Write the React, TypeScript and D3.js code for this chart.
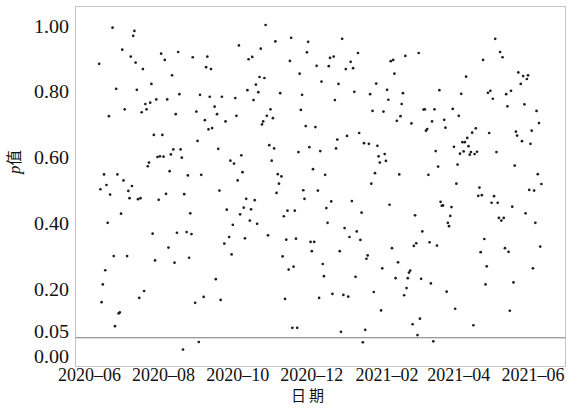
import React from "react";
import * as d3 from "d3";

// ---- data ----
const startDate = "2020-06-01";
// day offset from startDate for each observation
const dayIndex = [
  8, 9, 10, 11, 12, 13, 14, 15, 16, 17, 19, 20, 21, 22, 23, 24, 25, 26, 27, 28, 29,
  31, 32, 33, 34, 35, 36, 37, 38, 39, 40, 41, 42, 43, 44, 45, 46, 47, 48, 49, 50,
  51, 52, 53, 54, 55, 56, 57, 58, 59, 60, 61, 62, 63, 64, 65, 66, 67, 68, 69, 70,
  71, 72, 73, 74, 75, 76, 77, 78, 80, 81, 82, 83, 84, 85, 87, 88, 89, 90, 91, 92,
  94, 95, 96, 97, 98,
  99, 100, 101, 103, 104, 105, 106, 107, 108, 109, 111, 112, 113,
  115, 116, 117, 118, 119, 120, 121, 122, 123, 124, 125, 126, 127, 128, 129, 130,
  131, 132, 133, 134, 135, 136, 137, 138, 139, 140, 141, 142, 143, 144, 145, 146,
  147, 148, 149, 150, 151, 152, 153, 154, 155, 156, 157, 158, 159, 160, 161, 162,
  163, 164, 165, 166, 167, 168, 169, 170, 171, 172, 173, 174, 175, 176, 177, 178,
  179, 180, 181, 182, 183, 184, 185, 186, 187, 188, 189, 190, 191, 192, 193, 194,
  195, 196, 197, 198, 199, 200, 201, 202, 203, 204, 205, 206, 207, 208, 209, 210,
  211, 212, 213, 214, 215, 216, 217, 218, 219, 220, 221, 222, 223, 224, 225, 226,
  227, 228, 229, 230, 231, 232, 233, 234, 235, 236, 237, 238, 239, 240, 241, 242,
  243, 244, 245, 246, 247, 248, 249, 250, 251, 252, 253, 254, 255, 256, 257, 258,
  259, 260, 261, 262, 263, 264, 265, 266, 267, 268, 269, 270, 271, 272, 273, 274,
  275, 276, 277, 278, 279, 280, 281, 282, 283, 284, 285, 286, 287, 288, 289,
  290, 291, 292, 293, 294, 295, 296, 297, 298, 299, 300, 301, 302, 303, 304, 305,
  306, 307, 308, 309, 310, 311, 312, 313, 314, 315, 316, 317, 318, 319, 320, 321,
  322, 323, 324, 325, 326, 327, 328, 329, 330, 331, 332, 333, 334, 335, 336, 337,
  338, 339, 340, 341, 342, 343, 344, 345, 346, 347, 348, 349, 350, 351, 352, 353,
  355, 356, 357, 358, 359, 360, 361, 362, 363, 364, 365, 366, 367, 368, 369, 370,
  371, 372,
];

const pValues = [
  0.882, 0.501, 0.158, 0.212, 0.546, 0.255, 0.514, 0.399, 0.723, 0.485,
  0.992, 0.298, 0.085, 0.806, 0.546, 0.124, 0.127, 0.427, 0.925, 0.528,
  0.744, 0.298, 0.496, 0.474, 0.904, 0.511, 0.967, 0.982, 0.886, 0.803,
  0.471, 0.171, 0.474, 0.735, 0.866, 0.192, 0.760, 0.744, 0.571, 0.582,
  0.764, 0.821, 0.366, 0.666, 0.285, 0.774, 0.599, 0.469, 0.601, 0.913,
  0.666, 0.600, 0.894, 0.487, 0.774, 0.324, 0.556, 0.607, 0.847, 0.622,
  0.278, 0.729, 0.369, 0.918, 0.790, 0.622, 0.597, 0.014, 0.486, 0.371,
  0.543, 0.293, 0.428, 0.365, 0.902, 0.156, 0.737, 0.648, 0.037, 0.788,
  0.545, 0.174, 0.711, 0.872, 0.904, 0.683,
  0.782, 0.866, 0.687, 0.752, 0.228, 0.729, 0.624, 0.497, 0.165, 0.782,
  0.336, 0.707, 0.439, 0.356, 0.588, 0.303, 0.393, 0.579, 0.778, 0.724,
  0.528, 0.938, 0.425, 0.604, 0.553, 0.445, 0.352, 0.472, 0.802, 0.896,
  0.406, 0.440, 0.903, 0.772, 0.468, 0.819, 0.396, 0.796, 0.842, 0.928,
  0.698, 0.707, 0.839, 1.000, 0.724, 0.361, 0.635, 0.744, 0.588, 0.717,
  0.625, 0.950, 0.490, 0.547, 0.518, 0.793, 0.540, 0.297, 0.419, 0.168,
  0.348, 0.436, 0.257, 0.891, 0.961, 0.080, 0.266, 0.436, 0.351, 0.080,
  0.614, 0.852, 0.742, 0.788, 0.498, 0.472, 0.693, 0.917, 0.949, 0.629,
  0.341, 0.313, 0.562, 0.341, 0.690, 0.876, 0.497, 0.171, 0.617, 0.828,
  0.274, 0.237, 0.545,
  0.444, 0.399, 0.875, 0.900, 0.464, 0.183, 0.904, 0.772, 0.625, 0.652,
  0.821, 0.313, 0.068, 0.958, 0.180, 0.383, 0.866, 0.663, 0.175, 0.356,
  0.888, 0.465, 0.869, 0.797, 0.235, 0.373, 0.915, 0.672, 0.347, 0.430,
  0.036, 0.641, 0.074, 0.290, 0.300, 0.639, 0.790, 0.518, 0.739, 0.189,
  0.550, 0.822, 0.633, 0.601, 0.582, 0.133, 0.261, 0.737, 0.608, 0.587,
  0.803, 0.773, 0.454, 0.890, 0.322, 0.894, 0.852, 0.231, 0.709, 0.279,
  0.546, 0.723, 0.760, 0.793, 0.179, 0.906, 0.201, 0.231, 0.248, 0.254,
  0.701, 0.091, 0.329, 0.422, 0.337, 0.058, 0.915, 0.108, 0.229, 0.373,
  0.743, 0.744, 0.679, 0.684, 0.545, 0.340, 0.215, 0.707, 0.039, 0.744,
  0.617, 0.330, 0.570, 0.802, 0.463,
  0.451, 0.452, 0.712, 0.688, 0.190, 0.399, 0.389, 0.420, 0.447, 0.745,
  0.630, 0.138, 0.518, 0.576, 0.724, 0.609, 0.791, 0.644, 0.616, 0.644,
  0.843, 0.657, 0.632, 0.606, 0.614, 0.673, 0.088, 0.608, 0.686, 0.615,
  0.481, 0.506, 0.310, 0.483, 0.894, 0.350, 0.212, 0.267, 0.794, 0.672,
  0.800, 0.460, 0.776, 0.480, 0.958, 0.614, 0.460, 0.414, 0.918, 0.406,
  0.902, 0.414, 0.322, 0.790, 0.753, 0.311, 0.132, 0.800, 0.448, 0.218,
  0.573, 0.676, 0.664, 0.856, 0.821, 0.647, 0.845, 0.759, 0.428, 0.836,
  0.847, 0.499, 0.639, 0.679, 0.261, 0.497, 0.399, 0.739, 0.547, 0.702,
  0.327, 0.517,
];

const yTickValues = [1.0, 0.8, 0.6, 0.4, 0.2, 0.05, 0.0];
const xTickLabels = ["2020-06", "2020-08", "2020-10", "2020-12", "2021-02", "2021-04", "2021-06"];
const xDomain = ["2020-06-01", "2021-06-01"];
const threshold = 0.05;
const xTitle = "日期";
const yTitleItalic = "p";
const yTitleRest = "值";

// ---- layout ----
const W = 576;
const H = 410;
const frame = { left: 75.5, right: 565.5, top: 6.5, bottom: 366.5 };
const serif = "'Liberation Serif', 'Times New Roman', serif";
const cjk = "'Noto Sans CJK SC', 'Noto Sans', sans-serif";

export default function App() {
  const parseDay = d3.utcParse("%Y-%m-%d");
  const parseMonth = d3.utcParse("%Y-%m");
  const x = d3
    .scaleUtc()
    .domain(xDomain.map((s) => parseDay(s) as Date))
    .range([89.45, 532.9]);
  const y = d3.scaleLinear().domain([0, 1]).range([354.2, 25]);

  const start = parseDay(startDate) as Date;
  const points = dayIndex.map((d, i) => ({
    date: d3.utcDay.offset(start, d),
    p: pValues[i],
  }));

  // y labels with a simple collision nudge
  const yLabels = yTickValues
    .map((v) => ({ v, pos: y(v) }))
    .sort((a, b) => a.pos - b.pos);
  const minGap = 25;
  for (let i = 1; i < yLabels.length; i++) {
    const gap = yLabels[i].pos - yLabels[i - 1].pos;
    if (gap < minGap) {
      const need = minGap - gap;
      yLabels[i - 1].pos -= need * 0.8;
      yLabels[i].pos += need * 0.2;
    }
  }
  const fmtY = d3.format(".2f");

  const xTicks = xTickLabels.map((s) => parseMonth(s) as Date);
  const fmtX = d3.utcFormat("%Y\u2013%m");

  return (
    <svg
      width={W}
      height={H}
      style={{ position: "absolute", left: 0, top: 0, background: "#fff" }}
    >
      <rect x={0} y={0} width={W} height={H} fill="#fff" />
      <rect
        x={frame.left}
        y={frame.top}
        width={frame.right - frame.left}
        height={frame.bottom - frame.top}
        fill="none"
        stroke="#c4c4c4"
        strokeWidth={1}
      />
      <line
        x1={frame.left}
        x2={frame.right}
        y1={y(threshold)}
        y2={y(threshold)}
        stroke="#7a7a7a"
        strokeWidth={1.2}
      />
      {points.map((d, i) => (
        <circle key={i} cx={x(d.date)} cy={y(d.p)} r={1.35} fill="#1e1e1e" />
      ))}
      {yLabels.map((l) => (
        <text
          key={l.v}
          x={69}
          y={l.pos + 7.5}
          textAnchor="end"
          fontFamily={serif}
          fontSize={18}
          fill="#111"
          textLength={35}
          lengthAdjust="spacingAndGlyphs"
        >
          {fmtY(l.v)}
        </text>
      ))}
      {xTicks.map((t, i) => (
        <text
          key={i}
          x={x(t)}
          y={380.5}
          textAnchor="middle"
          fontFamily={serif}
          fontSize={18}
          fill="#111"
        >
          {fmtX(t)}
        </text>
      ))}
      <text
        x={309}
        y={401}
        textAnchor="middle"
        fontFamily={cjk}
        fontSize={15}
        letterSpacing={3}
        fill="#111"
      >
        {xTitle}
      </text>
      <text
        transform="translate(20,162) rotate(-90)"
        textAnchor="middle"
        fontSize={17}
        fill="#111"
      >
        <tspan fontFamily={serif} fontStyle="italic">
          {yTitleItalic}
        </tspan>
        <tspan fontFamily={cjk} fontSize={15.5}>
          {yTitleRest}
        </tspan>
      </text>
    </svg>
  );
}
